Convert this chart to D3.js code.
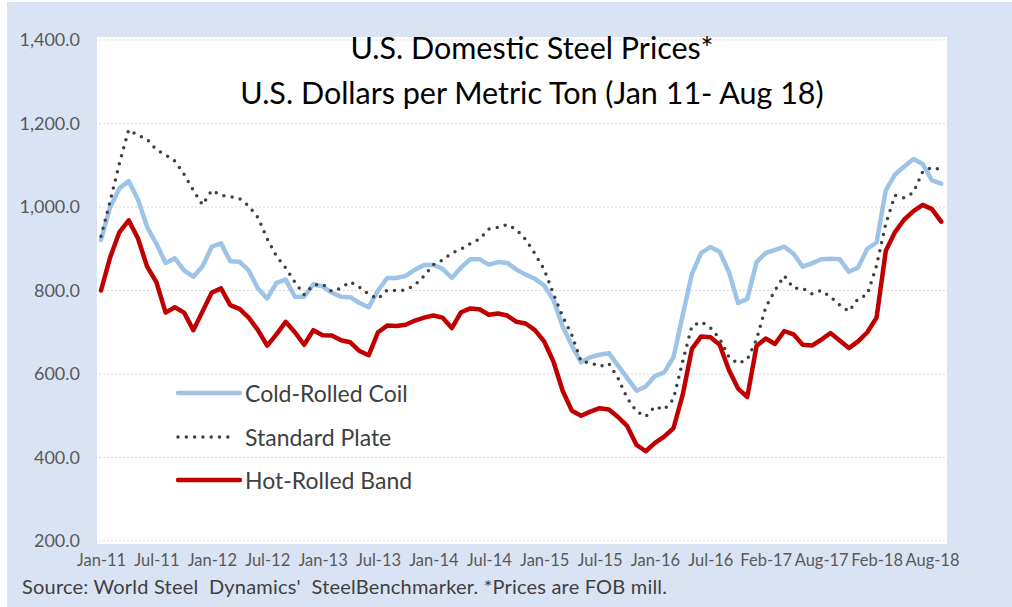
<!DOCTYPE html>
<html>
<head>
<meta charset="utf-8">
<script src="https://cdn.jsdelivr.net/npm/d3@7"></script>
<style>
  html, body { margin: 0; padding: 0; background: #ffffff; }
  svg { display: block; }
  text { font-family: Lato, "Open Sans", sans-serif; }
</style>
</head>
<body>
<svg id="chart" width="1012" height="607"></svg>
<script>
// ---- data ----
const categories = [
  "Jan-11","Feb-11","Mar-11","Apr-11","May-11","Jun-11","Jul-11","Aug-11","Sep-11","Oct-11","Nov-11","Dec-11",
  "Jan-12","Feb-12","Mar-12","Apr-12","May-12","Jun-12","Jul-12","Aug-12","Sep-12","Oct-12","Nov-12","Dec-12",
  "Jan-13","Feb-13","Mar-13","Apr-13","May-13","Jun-13","Jul-13","Aug-13","Sep-13","Oct-13","Nov-13","Dec-13",
  "Jan-14","Feb-14","Mar-14","Apr-14","May-14","Jun-14","Jul-14","Aug-14","Sep-14","Oct-14","Nov-14","Dec-14",
  "Jan-15","Feb-15","Mar-15","Apr-15","May-15","Jun-15","Jul-15","Aug-15","Sep-15","Oct-15","Nov-15","Dec-15",
  "Jan-16","Feb-16","Mar-16","Apr-16","May-16","Jun-16","Jul-16","Aug-16","Sep-16","Oct-16","Nov-16","Dec-16",
  "Feb-17","Mar-17","Apr-17","May-17","Jun-17","Jul-17","Aug-17","Sep-17","Oct-17","Nov-17","Dec-17","Jan-18",
  "Feb-18","Mar-18","Apr-18","May-18","Jun-18","Jul-18","Aug-18","Sep-18"
];

const coldRolledCoil = [
  921,1000,1045,1062,1018,952,912,866,877,848,833,858,
  905,913,870,869,848,805,781,818,826,785,785,815,
  810,795,785,784,770,760,800,830,830,835,850,861,
  861,852,830,855,875,875,862,868,866,850,838,828,
  812,778,714,668,628,640,646,650,620,590,560,570,
  595,604,640,740,840,890,904,893,845,770,780,868,
  890,897,905,888,857,865,875,876,875,845,855,900,
  915,1040,1078,1097,1115,1103,1064,1056
];

const standardPlate = [
  930,1015,1105,1185,1172,1162,1137,1125,1110,1078,1040,1005,
  1040,1028,1025,1020,1003,975,924,882,854,820,790,813,
  815,798,806,821,808,791,780,801,800,801,813,835,
  862,873,890,899,912,923,947,951,958,946,922,888,
  850,792,738,693,630,627,618,625,590,542,510,498,
  522,515,540,630,715,725,711,685,641,625,635,683,
  760,800,835,806,805,792,800,785,765,750,780,790,
  860,960,1028,1022,1035,1085,1095,1089
];

const hotRolledBand = [
  800,880,940,968,925,857,820,747,760,747,705,750,
  795,805,765,756,735,705,668,695,725,700,670,705,
  693,692,681,676,655,645,700,716,715,718,728,735,
  740,735,710,748,757,755,742,745,740,725,721,705,
  678,630,560,512,500,510,518,515,497,475,430,415,
  435,450,470,550,660,690,688,670,610,565,545,667,
  685,672,703,695,670,668,682,698,680,662,678,700,
  735,895,940,970,990,1005,995,965
];

const seriesNames = ["Cold-Rolled Coil", "Standard Plate", "Hot-Rolled Band"];
const yTicks = [200, 400, 600, 800, 1000, 1200, 1400];
const titleLines = ["U.S. Domestic Steel Prices*", "U.S. Dollars per Metric Ton (Jan 11- Aug 18)"];
const sourceNote = "Source: World Steel  Dynamics'  SteelBenchmarker. *Prices are FOB mill.";

// ---- layout ----
const svg = d3.select("#chart");
const W = 1012, H = 607;

svg.append("rect").attr("x", 7).attr("y", 2).attr("width", W - 7).attr("height", H - 2)
  .attr("fill", "#dae3f3");

const plot = { left: 97, right: 947, top: 37, bottom: 544 };
svg.append("rect")
  .attr("x", plot.left).attr("y", plot.top)
  .attr("width", plot.right - plot.left).attr("height", plot.bottom - plot.top)
  .attr("fill", "#ffffff");

const x = d3.scalePoint().domain(categories).range([101, 941.2]);
const y = d3.scaleLinear().domain([200, 1400]).range([541, 40]);

// gridlines
svg.append("g").selectAll("line").data(yTicks).join("line")
  .attr("x1", plot.left + 2).attr("x2", plot.right - 2)
  .attr("y1", d => y(d)).attr("y2", d => y(d))
  .attr("stroke", "#d9d9d9").attr("stroke-width", 1)
  .attr("stroke-dasharray", "2,2");

// y axis
const yAxis = svg.append("g").attr("transform", "translate(80,0)")
  .call(d3.axisLeft(y).tickValues(yTicks).tickFormat(d3.format(",.1f")).tickSize(0).tickPadding(0));
yAxis.select(".domain").remove();
yAxis.selectAll("text").attr("fill", "#595959").style("font-size", "18px")
  .style("font-family", "Lato, sans-serif");

// x axis
const xTickVals = categories.filter((d, i) => i % 6 === 0);
const xAxis = svg.append("g").attr("transform", "translate(0,554)")
  .call(d3.axisBottom(x).tickValues(xTickVals).tickSize(0).tickPadding(0));
xAxis.select(".domain").remove();
xAxis.selectAll("text").attr("fill", "#595959").style("font-size", "16.5px")
  .style("font-family", "Lato, sans-serif");

// lines
const line = d3.line().x((d, i) => x(categories[i])).y(d => y(d));
const styles = [
  { data: coldRolledCoil, stroke: "#9dc3e6", width: 4.5, dash: null, cap: "round" },
  { data: standardPlate, stroke: "#404040", width: 3.5, dash: "0,8.3", cap: "round" },
  { data: hotRolledBand, stroke: "#c00000", width: 4.5, dash: null, cap: "round" }
];
styles.forEach(s => {
  svg.append("path").datum(s.data)
    .attr("d", line)
    .attr("fill", "none")
    .attr("stroke", s.stroke)
    .attr("stroke-width", s.width)
    .attr("stroke-linejoin", "round")
    .attr("stroke-linecap", s.cap)
    .attr("stroke-dasharray", s.dash);
});

// legend
const legendY = [393, 437, 480];
const legend = svg.append("g");
styles.forEach((s, i) => {
  legend.append("line")
    .attr("x1", 178).attr("x2", s.dash ? 233 : 240)
    .attr("y1", legendY[i]).attr("y2", legendY[i])
    .attr("stroke", s.stroke).attr("stroke-width", s.width)
    .attr("stroke-linecap", "round")
    .attr("stroke-dasharray", s.dash);
  legend.append("text")
    .attr("x", 245).attr("y", legendY[i] + 8.5)
    .attr("fill", "#404040").style("font-size", "23px")
    .text(seriesNames[i]);
});

// title
svg.append("g").selectAll("text").data(titleLines).join("text")
  .attr("x", 532).attr("y", (d, i) => 59 + i * 45)
  .attr("text-anchor", "middle")
  .attr("fill", "#000000").style("font-size", "30.5px")
  .text(d => d);

// source
svg.append("text").attr("x", 22).attr("y", 594)
  .attr("fill", "#404040").style("font-size", "20px")
  .style("white-space", "pre")
  .attr("textLength", 645).attr("lengthAdjust", "spacing")
  .text(sourceNote);
</script>
</body>
</html>
